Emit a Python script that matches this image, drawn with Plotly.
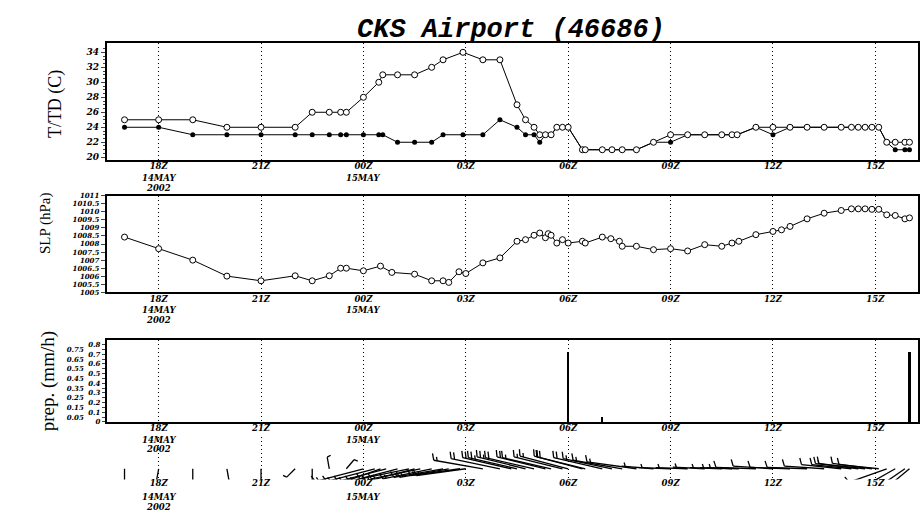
import numpy as np
import pandas as pd
import plotly.graph_objects as go

W, H = 920, 516

# ---------------- data ----------------
title_text = "CKS Airport (46686)"

tt_time = [
    "2002-05-14 17:00", "2002-05-14 18:00", "2002-05-14 19:00", "2002-05-14 20:00", "2002-05-14 21:00",
    "2002-05-14 22:00", "2002-05-14 22:30", "2002-05-14 23:00", "2002-05-14 23:20", "2002-05-14 23:30",
    "2002-05-15 00:00", "2002-05-15 00:27", "2002-05-15 00:34", "2002-05-15 01:00", "2002-05-15 01:30",
    "2002-05-15 02:00", "2002-05-15 02:20", "2002-05-15 02:55", "2002-05-15 03:30", "2002-05-15 04:00",
    "2002-05-15 04:30", "2002-05-15 04:45", "2002-05-15 05:00", "2002-05-15 05:10", "2002-05-15 05:20",
    "2002-05-15 05:30", "2002-05-15 05:40", "2002-05-15 05:50", "2002-05-15 06:00", "2002-05-15 06:25",
    "2002-05-15 06:30", "2002-05-15 07:00", "2002-05-15 07:17", "2002-05-15 07:35", "2002-05-15 08:00",
    "2002-05-15 08:30", "2002-05-15 09:00", "2002-05-15 09:30", "2002-05-15 10:00", "2002-05-15 10:30",
    "2002-05-15 10:48", "2002-05-15 10:57", "2002-05-15 11:30", "2002-05-15 12:00", "2002-05-15 12:30",
    "2002-05-15 13:00", "2002-05-15 13:30", "2002-05-15 14:00", "2002-05-15 14:18", "2002-05-15 14:30",
    "2002-05-15 14:42", "2002-05-15 14:54", "2002-05-15 15:06", "2002-05-15 15:20", "2002-05-15 15:35",
    "2002-05-15 15:52", "2002-05-15 16:00"]
temp_c = [25, 25, 25, 24, 24, 24, 26, 26, 26, 26,
          28, 30, 31, 31, 31, 32, 33, 34, 33, 33,
          27, 25, 24, 23, 23, 23, 24, 24, 24, 21,
          21, 21, 21, 21, 21, 22, 23, 23, 23, 23,
          23, 23, 24, 24, 24, 24, 24, 24, 24, 24,
          24, 24, 24, 22, 22, 22, 22]
dewp_c = [24, 24, 23, 23, 23, 23, 23, 23, 23, 23,
          23, 23, 23, 22, 22, 22, 23, 23, 23, 25,
          24, 23, 23, 22, 23, 23, 24, 24, 24, 21,
          21, 21, 21, 21, 21, 22, 22, 23, 23, 23,
          23, 23, 24, 23, 24, 24, 24, 24, 24, 24,
          24, 24, 24, 22, 21, 21, 21]

slp_time = [
    "2002-05-14 17:00", "2002-05-14 18:00", "2002-05-14 19:00", "2002-05-14 20:00", "2002-05-14 21:00",
    "2002-05-14 22:00", "2002-05-14 22:30", "2002-05-14 23:00", "2002-05-14 23:20", "2002-05-14 23:30",
    "2002-05-15 00:00", "2002-05-15 00:30", "2002-05-15 00:50", "2002-05-15 01:30", "2002-05-15 02:00",
    "2002-05-15 02:20", "2002-05-15 02:30", "2002-05-15 02:48", "2002-05-15 03:00", "2002-05-15 03:30",
    "2002-05-15 04:00", "2002-05-15 04:30", "2002-05-15 04:45", "2002-05-15 05:00", "2002-05-15 05:10",
    "2002-05-15 05:20", "2002-05-15 05:25", "2002-05-15 05:30", "2002-05-15 05:40", "2002-05-15 05:50",
    "2002-05-15 06:00", "2002-05-15 06:25", "2002-05-15 06:30", "2002-05-15 07:00", "2002-05-15 07:15",
    "2002-05-15 07:30", "2002-05-15 07:35", "2002-05-15 08:00", "2002-05-15 08:30", "2002-05-15 09:00",
    "2002-05-15 09:30", "2002-05-15 10:00", "2002-05-15 10:30", "2002-05-15 10:48", "2002-05-15 11:00",
    "2002-05-15 11:30", "2002-05-15 12:00", "2002-05-15 12:15", "2002-05-15 12:30", "2002-05-15 13:00",
    "2002-05-15 13:30", "2002-05-15 14:00", "2002-05-15 14:18", "2002-05-15 14:30", "2002-05-15 14:42",
    "2002-05-15 14:54", "2002-05-15 15:06", "2002-05-15 15:20", "2002-05-15 15:35", "2002-05-15 15:52",
    "2002-05-15 16:00"]
slp_hpa = [1008.43, 1007.71, 1007.00, 1006.01, 1005.72,
           1006.03, 1005.72, 1006.03, 1006.50, 1006.50,
           1006.34, 1006.63, 1006.24, 1006.13, 1005.72,
           1005.72, 1005.62, 1006.28, 1006.17, 1006.83,
           1007.14, 1008.17, 1008.27, 1008.54, 1008.68,
           1008.39, 1008.64, 1008.54, 1008.06, 1008.27,
           1008.06, 1008.17, 1008.06, 1008.43, 1008.33,
           1008.17, 1007.86, 1007.86, 1007.65, 1007.71,
           1007.57, 1007.96, 1007.86, 1008.06, 1008.17,
           1008.58, 1008.78, 1008.88, 1009.09, 1009.56,
           1009.91, 1010.08, 1010.18, 1010.18, 1010.18,
           1010.15, 1010.15, 1009.81, 1009.77, 1009.56,
           1009.62]

prcp_time = ["2002-05-15 06:00", "2002-05-15 07:00", "2002-05-15 16:00"]
prcp_mmh = [0.73, 0.05, 0.73]

wind_time = [
    "2002-05-14 17:00", "2002-05-14 18:00", "2002-05-14 19:00", "2002-05-14 20:00", "2002-05-14 21:00",
    "2002-05-14 22:00", "2002-05-14 22:30", "2002-05-14 23:00", "2002-05-14 23:30",
    "2002-05-15 00:00", "2002-05-15 00:20", "2002-05-15 00:30", "2002-05-15 00:40", "2002-05-15 01:00",
    "2002-05-15 01:20", "2002-05-15 01:30", "2002-05-15 01:40", "2002-05-15 02:00", "2002-05-15 02:20",
    "2002-05-15 02:30", "2002-05-15 02:50", "2002-05-15 03:00", "2002-05-15 03:30", "2002-05-15 04:00",
    "2002-05-15 04:20", "2002-05-15 04:30", "2002-05-15 04:45", "2002-05-15 05:00", "2002-05-15 05:20",
    "2002-05-15 05:30", "2002-05-15 05:50", "2002-05-15 06:00", "2002-05-15 06:25", "2002-05-15 06:30",
    "2002-05-15 07:00", "2002-05-15 07:17", "2002-05-15 07:35", "2002-05-15 08:00", "2002-05-15 08:30",
    "2002-05-15 09:00", "2002-05-15 09:30", "2002-05-15 10:00", "2002-05-15 10:30", "2002-05-15 10:48",
    "2002-05-15 11:00", "2002-05-15 11:30", "2002-05-15 12:00", "2002-05-15 12:30", "2002-05-15 13:00",
    "2002-05-15 13:30", "2002-05-15 14:00", "2002-05-15 14:18", "2002-05-15 14:30", "2002-05-15 14:42",
    "2002-05-15 14:54", "2002-05-15 15:06", "2002-05-15 15:20", "2002-05-15 15:35", "2002-05-15 15:52",
    "2002-05-15 16:00"]
wind_dir = [180, 190, 180, 170, 180, 225, 180, 350, 40,
            255, 255, 250, 255, 255, 258, 255, 258, 258, 260,
            260, 262, 262, 280, 282, 283, 283, 284, 283, 284,
            283, 284, 285, 285, 284, 283, 282, 280, 278, 275,
            272, 272, 273, 272, 272, 272, 272, 274, 272, 272,
            274, 276, 276, 278, 276, 278, 276, 250, 240, 235,
            230]
wind_kt = [3, 3, 3, 3, 3, 3, 3, 3, 3,
           13, 13, 13, 15, 15, 15, 15, 15, 15, 13,
           13, 13, 13, 15, 20, 20, 25, 25, 20, 20,
           15, 15, 15, 20, 20, 20, 15, 13, 13, 8,
           8, 8, 8, 8, 8, 8, 10, 10, 10, 10,
           10, 10, 10, 10, 15, 10, 10, 10, 10, 10,
           10]

tick_hours = [18, 21, 24, 27, 30, 33, 36, 39]
tick_text = ["18Z", "21Z", "00Z", "03Z", "06Z", "09Z", "12Z", "15Z"]
date_line1 = {18: "14MAY", 24: "15MAY"}
date_line2 = {18: "2002"}

t_ticks = [20, 22, 24, 26, 28, 30, 32, 34]
slp_ticks = [1005, 1005.5, 1006, 1006.5, 1007, 1007.5, 1008, 1008.5,
             1009, 1009.5, 1010, 1010.5, 1011]
prcp_ticks = [0, 0.05, 0.1, 0.15, 0.2, 0.25, 0.3, 0.35, 0.4, 0.45,
              0.5, 0.55, 0.6, 0.65, 0.7, 0.75, 0.8]

# ---------------- helpers ----------------
BASE = pd.Timestamp("2002-05-14 00:00")


def to_hours(ts):
    return [(pd.Timestamp(t) - BASE) / pd.Timedelta(hours=1) for t in ts]


X0_PX, X1_PX = 107, 920
XRANGE = [16.48, 40.25]
PX_PER_H = (X1_PX - X0_PX) / (XRANGE[1] - XRANGE[0])

P1 = (39, 158)
P2 = (194, 292.5)
P3 = (340.7, 424.3)
P4 = (440, 483)
BASELINE = 472
LBL_OFF = (8, 18, 28)   # centre offsets below each panel for the 3 label lines


def dom(p):
    return [1 - p[1] / H, 1 - p[0] / H]


def ypaper(px):
    return 1 - px / H


tick_font = dict(family="DejaVu Serif", size=8.5, color="black", weight="bold", style="italic")
y_font = dict(family="DejaVu Serif", size=9, color="black", weight="bold", style="italic")
slp_font = dict(family="DejaVu Serif", size=7, color="black", weight="bold", style="italic")
pr_font = dict(family="DejaVu Serif", size=7, color="black", weight="bold", style="italic")

fig = go.Figure()

tt_h = to_hours(tt_time)
fig.add_trace(go.Scatter(x=tt_h, y=dewp_c, mode="lines+markers", xaxis="x", yaxis="y",
                         line=dict(color="black", width=1),
                         marker=dict(symbol="circle", size=5, color="black"),
                         showlegend=False, cliponaxis=False))
fig.add_trace(go.Scatter(x=tt_h, y=temp_c, mode="lines+markers", xaxis="x", yaxis="y",
                         line=dict(color="black", width=1),
                         marker=dict(symbol="circle", size=6, color="white",
                                     line=dict(color="black", width=1)),
                         showlegend=False, cliponaxis=False))

fig.add_trace(go.Scatter(x=to_hours(slp_time), y=slp_hpa, mode="lines+markers",
                         xaxis="x2", yaxis="y2",
                         line=dict(color="black", width=1),
                         marker=dict(symbol="circle", size=6, color="white",
                                     line=dict(color="black", width=1)),
                         showlegend=False, cliponaxis=False))

fig.add_trace(go.Bar(x=to_hours(prcp_time), y=prcp_mmh, xaxis="x3", yaxis="y3",
                     width=0.05, marker=dict(color="black", line=dict(width=0)),
                     showlegend=False))

# wind barbs, built from direction / speed
bx, by = [], []
for h, d, s in zip(to_hours(wind_time), wind_dir, wind_kt):
    L = min(50.0, 4.0 * s)
    r = np.deg2rad(d)
    ux, uy = np.sin(r), np.cos(r)
    qx, qy = uy, -ux  # feather side
    fx, fy = 0.94 * qx + 0.34 * ux, 0.94 * qy + 0.34 * uy
    segs = [((0, 0), (ux * L, uy * L))]
    n10 = (s % 50) // 10
    half = (s % 10) >= 3
    pos = L
    for _ in range(int(n10)):
        sx, sy = ux * pos, uy * pos
        segs.append(((sx, sy), (sx + fx * 7, sy + fy * 7)))
        pos -= 3.5
    if half:
        if n10 == 0 and L > 20:
            pos = L - 3.5
        sx, sy = ux * pos, uy * pos
        segs.append(((sx, sy), (sx + fx * 4, sy + fy * 4)))
    for (ax_, ay_), (bx_, by_) in segs:
        bx += [h + ax_ / PX_PER_H, h + bx_ / PX_PER_H, None]
        by += [ay_, by_, None]

fig.add_trace(go.Scatter(x=bx, y=by, mode="lines", xaxis="x4", yaxis="y4",
                         line=dict(color="black", width=1.3), showlegend=False,
                         hoverinfo="skip"))

xcommon = dict(range=XRANGE, tickmode="array", tickvals=tick_hours, ticktext=tick_text,
               showgrid=True, gridcolor="black", griddash="1px,3px", gridwidth=1,
               ticks="", zeroline=False, tickfont=tick_font, ticklabelstandoff=-3,
               domain=[X0_PX / W, 1])
frame = dict(showline=True, linewidth=2, linecolor="black", mirror=True)

fig.update_layout(
    width=W, height=H, margin=dict(l=0, r=0, t=0, b=0),
    paper_bgcolor="white", plot_bgcolor="white", bargap=0,
    xaxis=dict(**xcommon, **frame, anchor="y"),
    xaxis2=dict(**xcommon, **frame, anchor="y2", matches="x"),
    xaxis3=dict(**xcommon, **frame, anchor="y3", matches="x"),
    xaxis4=dict(**xcommon, showline=False, anchor="y4", matches="x"),
    yaxis=dict(domain=dom(P1), range=[19.6, 35.2], tickmode="array", tickvals=t_ticks,
               ticktext=[str(v) for v in t_ticks], ticks="outside", ticklen=4,
               tickwidth=1, tickfont=y_font, showgrid=False, zeroline=False,
               minor=dict(ticks="outside", ticklen=2, tickvals=list(np.arange(20, 35, 0.5))),
               anchor="x", **frame),
    yaxis2=dict(domain=dom(P2), range=[1005, 1011], tickmode="array", tickvals=slp_ticks,
                ticktext=[f"{v:g}" for v in slp_ticks], ticks="outside", ticklen=4,
                tickfont=slp_font, showgrid=False, zeroline=False, anchor="x2", **frame),
    # even precipitation ticks on the frame, odd ones in a second column to the left
    yaxis3=dict(domain=dom(P3), range=[0, 0.85], tickmode="array", tickvals=prcp_ticks[::2],
                ticktext=[f"{v:g}" for v in prcp_ticks[::2]], ticks="outside", ticklen=3,
                tickfont=pr_font, showgrid=False, zeroline=False, anchor="x3",
                minor=dict(ticks="outside", ticklen=3, tickvals=prcp_ticks[1::2]), **frame),
    yaxis5=dict(overlaying="y3", anchor="free", position=84 / W, side="left",
                range=[0, 0.85], tickmode="array", tickvals=prcp_ticks[1::2],
                ticktext=[f"{v:g}" for v in prcp_ticks[1::2]], ticks="", showline=False,
                tickfont=pr_font, showgrid=False, zeroline=False),
    yaxis4=dict(domain=dom(P4), range=[-(P4[1] - BASELINE), BASELINE - P4[0]],
                visible=False, anchor="x4"),
)
# dummy trace so the second precipitation label axis is drawn
fig.add_trace(go.Scatter(x=[None], y=[None], xaxis="x3", yaxis="y5", showlegend=False))

ann = []
ann.append(dict(text=title_text, x=512 / W, y=ypaper(25), xref="paper", yref="paper",
                showarrow=False, xanchor="center", yanchor="middle",
                font=dict(family="Liberation Mono", size=27, color="black",
                          weight="bold", style="italic")))
ylab_font = dict(family="Liberation Serif", color="black")
for txt, xc, yc, sz in [("T/TD (C)", 55, 101, 18), ("SLP (hPa)", 45, 222, 15),
                        ("prep. (mm/h)", 48, 383, 19)]:
    ann.append(dict(text=txt, x=xc / W, y=ypaper(yc), xref="paper", yref="paper",
                    showarrow=False, textangle=-90, xanchor="center", yanchor="middle",
                    font=dict(**ylab_font, size=sz)))

date_font = dict(family="DejaVu Serif", size=8.5, color="black", weight="bold", style="italic")
for p in (P1, P2, P3, P4):
    bottom = p[1]
    for hh, txt in date_line1.items():
        ann.append(dict(text=txt, x=hh, y=ypaper(bottom + LBL_OFF[1]), xref="x", yref="paper",
                        showarrow=False, xanchor="center", yanchor="middle", font=date_font,
                        borderpad=0))
    for hh, txt in date_line2.items():
        ann.append(dict(text=txt, x=hh, y=ypaper(bottom + LBL_OFF[2]), xref="x", yref="paper",
                        showarrow=False, xanchor="center", yanchor="middle", font=date_font,
                        borderpad=0))
fig.update_layout(annotations=ann)

fig.write_html("out.html")
